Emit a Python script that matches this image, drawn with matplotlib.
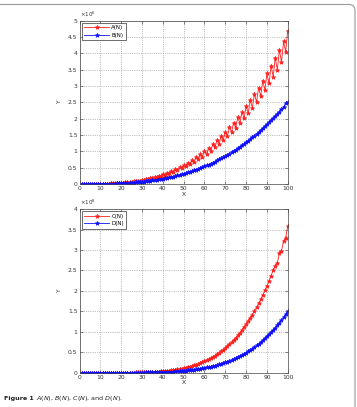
import matplotlib.pyplot as plt
from matplotlib.patches import FancyBboxPatch
import numpy as np

N = list(range(1, 101))

# top panel, units of 10^6
A = [0, 0, 0, 0, 0.001, 0.001, 0.001, 0.002, 0.003, 0.004,
     0.006, 0.007, 0.009, 0.012, 0.015, 0.018, 0.021, 0.025, 0.029, 0.034,
     0.040, 0.046, 0.052, 0.059, 0.067, 0.076, 0.085, 0.094, 0.105, 0.125,
     0.122, 0.152, 0.147, 0.183, 0.175, 0.217, 0.207, 0.255, 0.242, 0.297,
     0.281, 0.345, 0.325, 0.395, 0.372, 0.453, 0.424, 0.514, 0.481, 0.581,
     0.542, 0.653, 0.608, 0.731, 0.679, 0.815, 0.756, 0.906, 0.839, 1.003,
     0.927, 1.107, 1.021, 1.217, 1.122, 1.335, 1.228, 1.460, 1.342, 1.593,
     1.462, 1.733, 1.589, 1.881, 1.723, 2.039, 1.865, 2.204, 2.014, 2.378,
     2.171, 2.561, 2.336, 2.753, 2.509, 2.954, 2.690, 3.164, 2.879, 3.386,
     3.078, 3.616, 3.286, 3.857, 3.503, 4.108, 3.728, 4.371, 4.050, 4.70]
B = [0, 0, 0, 0, 0, 0.001, 0.001, 0.001, 0.002, 0.003,
     0.003, 0.004, 0.006, 0.007, 0.008, 0.010, 0.012, 0.015, 0.017, 0.020,
     0.023, 0.027, 0.030, 0.035, 0.039, 0.044, 0.049, 0.055, 0.061, 0.068,
     0.074, 0.082, 0.090, 0.098, 0.107, 0.117, 0.127, 0.137, 0.148, 0.160,
     0.172, 0.185, 0.199, 0.213, 0.228, 0.243, 0.260, 0.276, 0.294, 0.313,
     0.332, 0.352, 0.372, 0.394, 0.416, 0.439, 0.463, 0.488, 0.513, 0.540,
     0.567, 0.596, 0.625, 0.655, 0.687, 0.719, 0.752, 0.786, 0.821, 0.858,
     0.895, 0.933, 0.973, 1.013, 1.055, 1.097, 1.141, 1.186, 1.233, 1.280,
     1.329, 1.378, 1.429, 1.482, 1.535, 1.590, 1.646, 1.704, 1.762, 1.823,
     1.884, 1.947, 2.011, 2.076, 2.143, 2.212, 2.282, 2.353, 2.480, 2.500]

# bottom panel, units of 10^8
C = [0, 0, 0, 0, 0, 0, 0, 0, 0, 0,
     0, 0, 0, 0, 0, 0, 0.001, 0.001, 0.001, 0.001,
     0.001, 0.002, 0.002, 0.003, 0.004, 0.004, 0.005, 0.006, 0.007, 0.009,
     0.010, 0.012, 0.014, 0.016, 0.019, 0.022, 0.025, 0.029, 0.032, 0.037,
     0.042, 0.047, 0.053, 0.059, 0.066, 0.074, 0.083, 0.092, 0.102, 0.113,
     0.124, 0.137, 0.151, 0.165, 0.181, 0.198, 0.217, 0.236, 0.257, 0.280,
     0.304, 0.330, 0.357, 0.387, 0.418, 0.451, 0.486, 0.523, 0.563, 0.605,
     0.650, 0.697, 0.746, 0.799, 0.854, 0.913, 0.974, 1.039, 1.108, 1.180,
     1.255, 1.335, 1.418, 1.506, 1.597, 1.694, 1.794, 1.900, 2.010, 2.126,
     2.247, 2.373, 2.504, 2.620, 2.680, 2.930, 2.980, 3.220, 3.300, 3.580]
D = [0, 0, 0, 0, 0, 0, 0, 0, 0, 0,
     0, 0, 0, 0, 0, 0, 0, 0, 0, 0,
     0.001, 0.001, 0.001, 0.001, 0.001, 0.002, 0.002, 0.003, 0.003, 0.004,
     0.004, 0.005, 0.006, 0.007, 0.008, 0.009, 0.010, 0.012, 0.014, 0.015,
     0.017, 0.020, 0.022, 0.025, 0.028, 0.031, 0.034, 0.038, 0.042, 0.047,
     0.052, 0.057, 0.063, 0.069, 0.075, 0.083, 0.090, 0.098, 0.107, 0.117,
     0.127, 0.137, 0.149, 0.161, 0.174, 0.188, 0.203, 0.218, 0.235, 0.252,
     0.271, 0.290, 0.311, 0.333, 0.356, 0.380, 0.406, 0.433, 0.462, 0.492,
     0.523, 0.556, 0.591, 0.627, 0.666, 0.706, 0.748, 0.792, 0.838, 0.886,
     0.936, 0.989, 1.044, 1.101, 1.161, 1.223, 1.288, 1.356, 1.426, 1.500]

xticks = [0, 10, 20, 30, 40, 50, 60, 70, 80, 90, 100]
yticks_top = [0, 0.5, 1, 1.5, 2, 2.5, 3, 3.5, 4, 4.5, 5]
yticks_bot = [0, 0.5, 1, 1.5, 2, 2.5, 3, 3.5, 4]

W, H = 357, 407
fig = plt.figure(figsize=(W / 100, H / 100), dpi=100)
fs = 4.3


def panel(rect, s1, s2, labels, yticks, expo):
    ax = fig.add_axes(rect)
    ax.plot(N, s1, '-*', color='#ff2020', lw=0.6, ms=3.2, mew=0.5, label=labels[0])
    ax.plot(N, s2, '-*', color='#1010ff', lw=0.6, ms=3.2, mew=0.5, label=labels[1])
    ax.set_xlim(0, 100)
    ax.set_ylim(yticks[0], yticks[-1])
    ax.set_xticks(xticks)
    ax.set_yticks(yticks)
    ax.set_yticklabels(['%g' % t for t in yticks])
    ax.tick_params(direction='in', labelsize=fs, length=2, width=0.4, pad=1.5,
                   top=True, right=True, colors='#333333')
    ax.grid(True, ls=':', lw=0.5, color='#888888')
    for s in ax.spines.values():
        s.set_linewidth(0.5)
        s.set_color('#444444')
    ax.set_xlabel('X', fontsize=fs, labelpad=0.5, color='#333333')
    ax.set_ylabel('Y', fontsize=fs, labelpad=4, color='#333333')
    ax.text(0.0, 1.01, r'$\times10^{%d}$' % expo, transform=ax.transAxes,
            fontsize=fs - 0.3, ha='left', va='bottom', color='#333333')
    leg = ax.legend(loc='upper left', fontsize=fs - 0.3, handlelength=4.5,
                    borderpad=0.4, labelspacing=0.5, handletextpad=0.4,
                    borderaxespad=0.4, fancybox=False, edgecolor='#333333',
                    framealpha=1)
    leg.get_frame().set_linewidth(0.5)
    return ax


panel([0.223, 0.548, 0.583, 0.401], A, B, ['A(N)', 'B(N)'], yticks_top, 6)
panel([0.223, 0.0843, 0.583, 0.402], C, D, ['C(N)', 'D(N)'], yticks_bot, 8)

fig.text(4 / W, 1 - 398.5 / H, 'Figure 1', fontsize=4.6, fontweight='bold',
         va='center', ha='left', color='#222222')
fig.text(36 / W, 1 - 398.5 / H, r'$A(N)$, $B(N)$, $C(N)$, and $D(N)$.',
         fontsize=4.6, va='center', ha='left', color='#222222')

# page frame (top and right edge)
frame = FancyBboxPatch((-0.3, -0.3), 3.55 + 0.3, 4.025 + 0.3,
                       boxstyle='round,pad=0,rounding_size=0.06',
                       transform=fig.dpi_scale_trans, fill=False,
                       edgecolor='#999999', lw=0.8)
fig.patches.append(frame)

fig.savefig('out.png', dpi=100)
